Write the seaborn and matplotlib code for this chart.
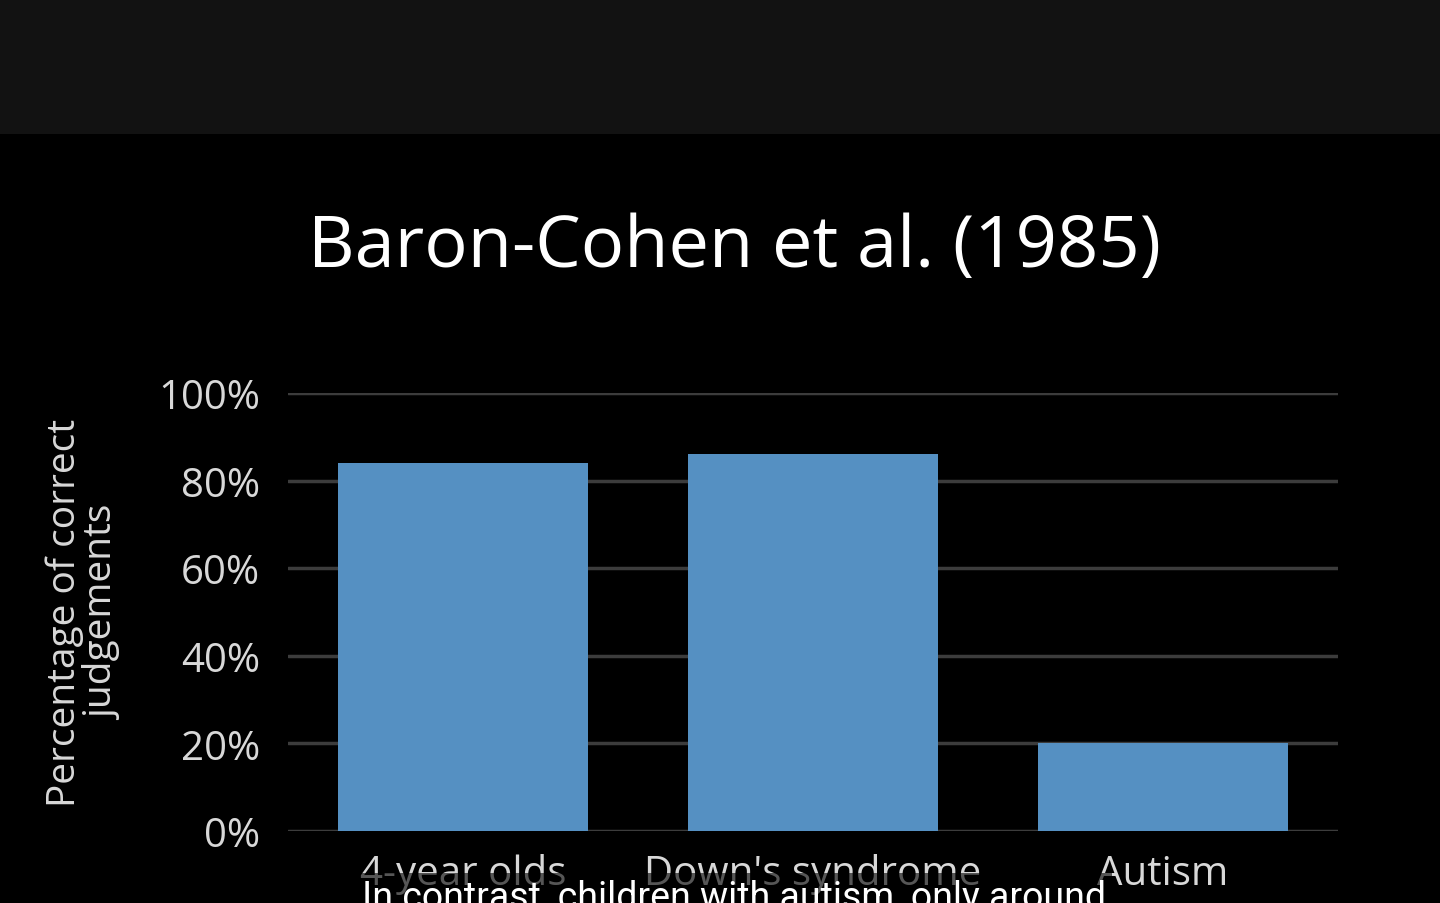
import matplotlib
matplotlib.use("Agg")
import matplotlib.pyplot as plt
import seaborn as sns
import pandas as pd
from matplotlib.ticker import PercentFormatter
from matplotlib.patches import Rectangle

# data
groups = ["4-year olds", "Down's syndrome", "Autism"]
correct_pct = [84, 86, 20]
y_ticks = [0, 20, 40, 60, 80, 100]

title = "Baron-Cohen et al. (1985)"
y_label = "Percentage of correct\njudgements"
caption = "In contrast, children with autism, only around"

sns.set_theme(style="dark")
plt.rcParams["font.family"] = ["Open Sans", "DejaVu Sans"]

df = pd.DataFrame({"group": groups, "pct": correct_pct})

fig = plt.figure(figsize=(14.4, 9.04), dpi=100, facecolor="black")
# dark band at the top of the video frame
fig.patches.append(Rectangle((0, 0.851), 1, 0.149, transform=fig.transFigure,
                             facecolor="#121212", edgecolor="none", zorder=0))

ax = fig.add_axes([0.2, 0.0796, 0.729, 0.4845])
ax.set_facecolor("black")
sns.barplot(data=df, x="group", y="pct", color="#5590c2", saturation=1,
            width=0.714, linewidth=0, ax=ax, zorder=3)

ax.set_ylim(0, 100)
ax.set_xlim(-0.5, 2.5)
ax.set_yticks(y_ticks)
ax.yaxis.set_major_formatter(PercentFormatter(decimals=0))
ax.grid(axis="y", color="#3c3c3c", linewidth=2.5, zorder=0)
ax.grid(axis="x", visible=False)
for s in ax.spines.values():
    s.set_visible(False)
ax.tick_params(axis="y", colors="#d8d8d8", labelsize=29, length=0, pad=20)
ax.tick_params(axis="x", colors="#d8d8d8", labelsize=29, length=0, pad=16)
ax.set_xlabel("")
ax.set_ylabel(y_label, color="#d8d8d8", fontsize=28, labelpad=26, linespacing=1.0)

fig.text(0.51, 0.725, title, ha="center", va="center", color="white", fontsize=52)

# subtitle overlay burned into the video, cut at the bottom edge
fig.text(0.2514, -0.014, caption, ha="left", va="bottom", color="white",
         fontsize=27, family=["Roboto", "DejaVu Sans"],
         bbox=dict(facecolor="black", alpha=0.6, edgecolor="none", pad=4))

fig.savefig("out.png", dpi=100, facecolor="black")
